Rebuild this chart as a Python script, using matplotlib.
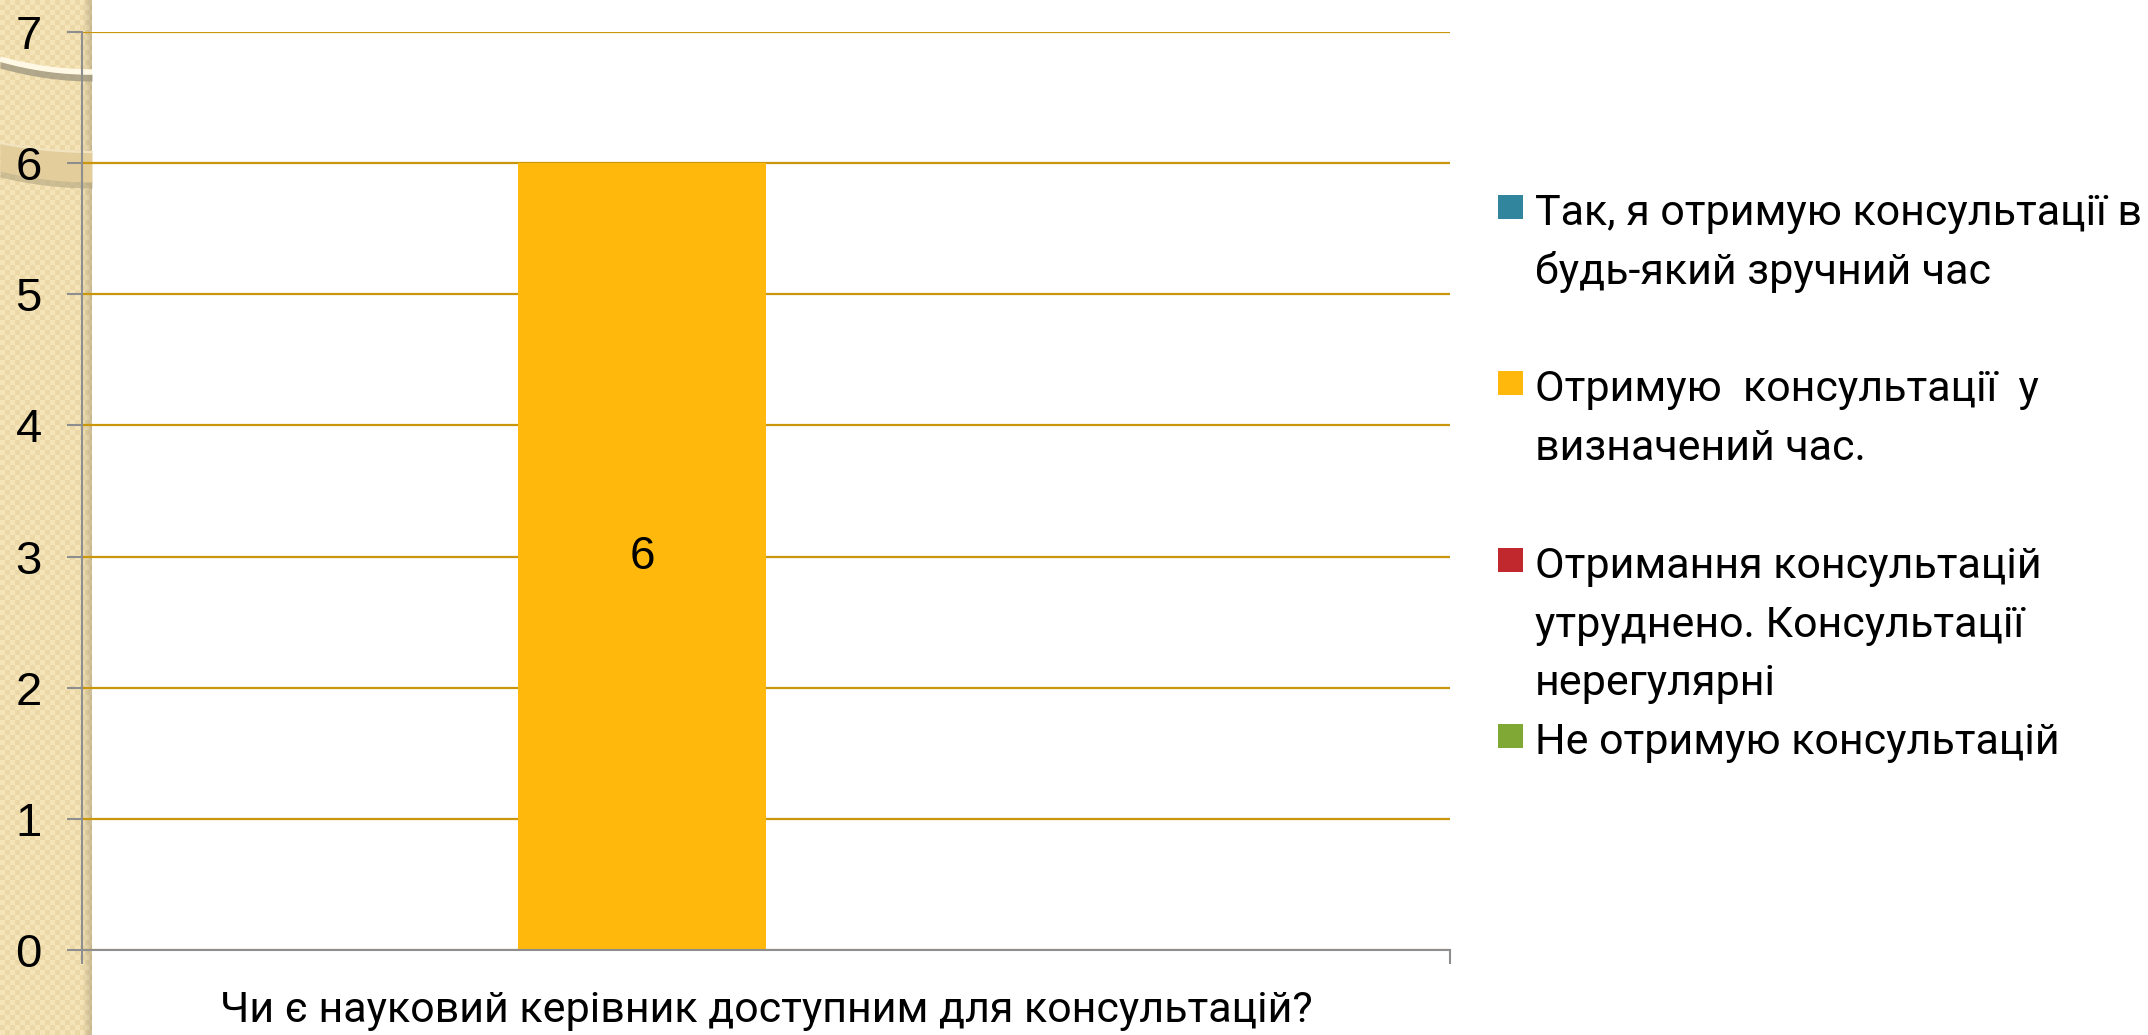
import numpy as np
import matplotlib
matplotlib.use("Agg")
import matplotlib.pyplot as plt
from matplotlib.patches import Rectangle

# ---------------- data ----------------
category = ["Чи є науковий керівник доступним для консультацій?"]
series_names = [
    "Так, я отримую консультації в\nбудь-який зручний час",
    "Отримую  консультації  у\nвизначений час.",
    "Отримання консультацій\nутруднено. Консультації\nнерегулярні",
    "Не отримую консультацій",
]
series_values = [0, 6, 0, 0]
series_colors = ["#31859C", "#FFB80B", "#C0282E", "#7FA834"]
y_ticks = [0, 1, 2, 3, 4, 5, 6, 7]

W, H = 2148, 1035
fig = plt.figure(figsize=(W / 100, H / 100), dpi=100)
fig.patch.set_facecolor("white")

# ---------------- decorative background (pixel coords, y from top) ----------------
bg = fig.add_axes([0, 0, 1, 1], zorder=0)
bg.set_xlim(0, W)
bg.set_ylim(H, 0)
bg.axis("off")

strip_w = 92
yy, xx = np.mgrid[0:H, 0:strip_w]
cell = ((xx // 5) + (yy // 5)) % 2
base = np.array([245, 228, 183]) / 255.0
alt = np.array([236, 216, 166]) / 255.0
img = np.where(cell[..., None] == 0, base, alt)
shade = np.clip((xx - 82) / 10.0, 0, 1)[..., None]
img = img * (1 - 0.18 * shade)
bg.imshow(img, extent=(0, strip_w, H, 0), aspect="auto", interpolation="nearest", zorder=0)

xs = np.linspace(0, strip_w, 60)
t = xs / strip_w
y1 = 59 + 13 * (1 - (1 - t) ** 2)
bg.fill_between(xs, y1 + 2, y1 + 9, color="#9C947E", alpha=0.75, lw=0, zorder=1)
bg.plot(xs, y1, color="#FFF8E4", lw=4, zorder=2, solid_capstyle="butt")

top = 143 + 9 * (1 - (1 - t) ** 2)
bot = 171 + 11 * (1 - (1 - t) ** 2)
bg.fill_between(xs, bot - 1, bot + 6, color="#B3A57F", alpha=0.6, lw=0, zorder=1)
bg.fill_between(xs, top, bot, color="#E3CD9A", lw=0, zorder=2)
bg.plot(xs, top, color="#F2E4C0", lw=1.5, zorder=3)

# ---------------- main chart ----------------
ax_left, ax_right, ax_top, ax_bot = 82, 1450, 32, 950
ax = fig.add_axes([ax_left / W, (H - ax_bot) / H, (ax_right - ax_left) / W, (ax_bot - ax_top) / H], zorder=2)
ax.set_facecolor("none")

n = len(series_values)
group_w = 0.7253
bw = group_w / n
xpos = np.arange(len(category))
for i, (name, v, c) in enumerate(zip(series_names, series_values, series_colors)):
    off = (i - (n - 1) / 2) * bw
    cont = ax.bar(xpos + off, [v], width=bw, color=c, linewidth=0, zorder=3, label=name)
    if v > 0:
        ax.bar_label(cont, labels=[f"{v}"], label_type="center",
                     fontsize=33, family="Liberation Sans", color="black")

ax.set_xlim(-0.5, 0.5)
ax.set_ylim(0, 7)
ax.set_yticks(y_ticks)
ax.set_yticklabels([str(v) for v in y_ticks], fontsize=34, family="Liberation Sans")
ax.yaxis.grid(True, color="#C9960C", lw=1.6, zorder=1)
ax.set_axisbelow(True)

ax.set_xticks([-0.5, 0.5])
ax.set_xticklabels(["", ""])
ax.tick_params(axis="x", which="major", length=10, width=1.5, color="#8E8E8E", direction="out")
ax.tick_params(axis="y", length=11, width=1.5, color="#8E8E8E", pad=18, direction="out")

# category label below the axis (baseline at ~1022 px from top)
cat_y = -(1022 - ax_bot) / (ax_bot - ax_top)
ax.text(xpos[0], cat_y, category[0], transform=ax.get_xaxis_transform(),
        ha="center", va="baseline", fontsize=31, family="Roboto", color="black")

for s in ["top", "right"]:
    ax.spines[s].set_visible(False)
for s in ["left", "bottom"]:
    ax.spines[s].set_color("#8E8E8E")
    ax.spines[s].set_linewidth(1.5)
    ax.spines[s].set_zorder(4)

# ---------------- legend (manual, Excel-like slots) ----------------
leg = fig.add_axes([0, 0, 1, 1], zorder=3)
leg.set_xlim(0, W)
leg.set_ylim(H, 0)
leg.axis("off")
line_h = 58.8
base0 = 225
k = 0
for i, (name, c) in enumerate(zip(series_names, series_colors)):
    lines = name.split("\n")
    b = base0 + k * line_h
    leg.add_patch(Rectangle((1498, b - 30), 25, 24, color=c, lw=0))
    for j, line in enumerate(lines):
        leg.text(1535, b + j * line_h, line, fontsize=31, family="Roboto",
                 va="baseline", ha="left", color="black")
    k += max(len(lines), 3) if i < len(series_names) - 2 else len(lines)

fig.savefig("out.png", dpi=100)
